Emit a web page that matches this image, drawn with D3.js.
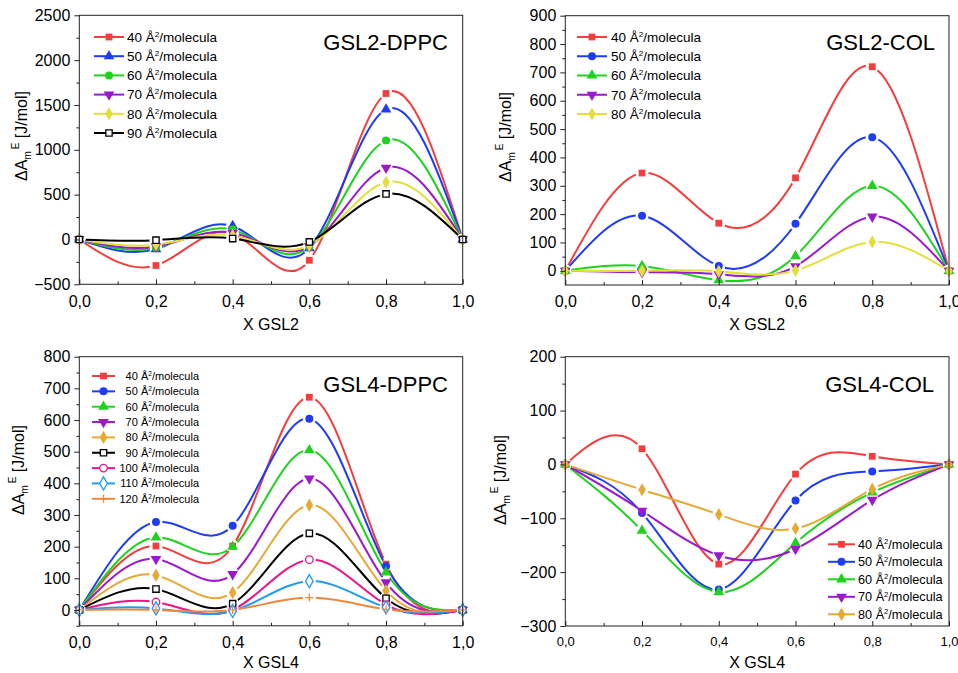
<!DOCTYPE html>
<html>
<head>
<meta charset="utf-8">
<script src="https://cdn.jsdelivr.net/npm/d3@7"></script>
<style>
body { margin: 0; background: #fff; }
svg { font-family: Arial, "Liberation Sans", sans-serif; }
</style>
</head>
<body>
<script>
// mole fraction of the glycolipid
var xFractions = [0, 0.2, 0.4, 0.6, 0.8, 1.0];

// GSL2-DPPC
var gsl2DppcAreas = [40, 50, 60, 70, 80, 90];
var gsl2DppcValues = [
  [0, -290, 70, -232, 1628, 0],
  [0, -107, 150, -96, 1450, 0],
  [0, -92, 110, -85, 1105, 0],
  [0, -78, 75, -78, 800, 0],
  [0, -58, 45, -65, 638, 0],
  [0, -8, 10, -27, 508, 0]
];

// GSL2-COL
var gsl2ColAreas = [40, 50, 60, 70, 80];
var gsl2ColValues = [
  [0, 345, 168, 328, 720, 0],
  [0, 194, 17, 166, 471, 0],
  [0, 17, -33, 52, 300, 0],
  [0, -5, -12, 16, 191, 0],
  [0, 0, -2, 1, 102, 0]
];

// GSL4-DPPC
var gsl4DppcAreas = [40, 50, 60, 70, 80, 90, 100, 110, 120];
var gsl4DppcValues = [
  [0, 202, 202, 672, 145, 0],
  [0, 278, 266, 604, 138, 0],
  [0, 229, 200, 505, 119, 0],
  [0, 161, 113, 415, 87, 0],
  [0, 110, 55, 331, 61, 0],
  [0, 66, 20, 242, 37, 0],
  [0, 25, 0, 159, 17, 0],
  [0, 5, -3, 91, 8, 0],
  [0, 0, 0, 39, 2, 0]
];

// GSL4-COL
var gsl4ColAreas = [40, 50, 60, 70, 80];
var gsl4ColValues = [
  [0, 29, -185, -18, 15, 0],
  [0, -90, -232, -67, -13, 0],
  [0, -123, -237, -146, -52, 0],
  [0, -86, -169, -157, -66, 0],
  [0, -47, -93, -119, -46, 0]
];

var xTicks = [0, 0.2, 0.4, 0.6, 0.8, 1.0];
var xMinor = [0.1, 0.3, 0.5, 0.7, 0.9];

var RED = "#f53d3d", BLUE = "#1f3cf5", GREEN = "#1ed21e", PURPLE = "#9b19cd",
    YELLOW = "#e3df3a", GOLD = "#e6a933", BLACK = "#000", PINK = "#f01486",
    LBLUE = "#1e9cf5", ORANGE = "#f0883c";

var panels = [
  { title: "GSL2-DPPC", xlabel: "X GSL2", areas: gsl2DppcAreas, values: gsl2DppcValues,
    colors: [RED, BLUE, GREEN, PURPLE, YELLOW, BLACK],
    marks: ["square", "triangle", "circle", "triDown", "diamond", "openSquare"],
    x0: 79.3, x1: 462.7, yDomain: [-500, 2500], y0: 284.3, y1: 15.3,
    yTicks: d3.range(-500, 2501, 500), yMinor: d3.range(-250, 2500, 500),
    xFont: 16, titleX: 448, titleY: 50, ylabX: 27, ylabY: 136, xlabY: 330,
    leg: { x0: 94, x1: 124, tx: 127, y: 37, dy: 19.2, font: 13.5, anchor: "start" } },
  { title: "GSL2-COL", xlabel: "X GSL2", areas: gsl2ColAreas, values: gsl2ColValues,
    colors: [RED, BLUE, GREEN, PURPLE, YELLOW],
    marks: ["square", "circle", "triangle", "triDown", "diamond"],
    x0: 565.3, x1: 949, yDomain: [-50, 900], y0: 285, y1: 15.7,
    yTicks: d3.range(0, 901, 100), yMinor: d3.range(50, 900, 100),
    xFont: 16, titleX: 935, titleY: 50, ylabX: 511, ylabY: 137, xlabY: 330,
    leg: { x0: 577, x1: 607, tx: 611, y: 37, dy: 19.25, font: 13.5, anchor: "start" } },
  { title: "GSL4-DPPC", xlabel: "X GSL4", areas: gsl4DppcAreas, values: gsl4DppcValues,
    colors: [RED, BLUE, GREEN, PURPLE, GOLD, BLACK, PINK, LBLUE, ORANGE],
    marks: ["square", "circle", "triangle", "triDown", "diamond", "openSquare", "openCircle", "openDiamond", "plus"],
    x0: 79.3, x1: 462.7, yDomain: [-50, 800], y0: 625.8, y1: 356.7,
    yTicks: d3.range(0, 801, 100), yMinor: d3.range(-50, 800, 100),
    xFont: 16, titleX: 448, titleY: 392, ylabX: 24, ylabY: 470, xlabY: 668,
    leg: { x0: 92, x1: 115, tx: 199, y: 376, dy: 15.35, font: 11, anchor: "end" } },
  { title: "GSL4-COL", xlabel: "X GSL4", areas: gsl4ColAreas, values: gsl4ColValues,
    colors: [RED, BLUE, GREEN, PURPLE, GOLD],
    marks: ["square", "circle", "triangle", "triDown", "diamond"],
    x0: 565.3, x1: 949, yDomain: [-300, 200], y0: 626, y1: 356.7,
    yTicks: d3.range(-300, 201, 100), yMinor: d3.range(-250, 200, 100),
    xFont: 13, titleX: 934, titleY: 392, ylabX: 506, ylabY: 480, xlabY: 668,
    leg: { x0: 828, x1: 855, tx: 858, y: 544.3, dy: 17.5, font: 12.7, anchor: "start" } }
];

var svg = d3.select("body").append("svg")
  .attr("width", 958)
  .attr("height", 673);
var defs = svg.append("defs");

function commaFmt(d) { return d3.format(".1f")(d).replace(".", ","); }

function drawMarker(g, type, color, x, y) {
  var m;
  if (type === "square") {
    m = g.append("path").attr("d", d3.symbol(d3.symbolSquare, 46)()).attr("fill", color);
  } else if (type === "circle") {
    m = g.append("path").attr("d", d3.symbol(d3.symbolCircle, 50)()).attr("fill", color);
  } else if (type === "triangle") {
    m = g.append("path").attr("d", d3.symbol(d3.symbolTriangle, 50)()).attr("fill", color);
  } else if (type === "triDown") {
    m = g.append("path").attr("d", d3.symbol(d3.symbolTriangle, 50)()).attr("fill", color);
    m.attr("transform", "translate(" + x + "," + y + ") rotate(180)");
    return;
  } else if (type === "diamond") {
    m = g.append("path").attr("d", d3.symbol(d3.symbolDiamond, 50)()).attr("fill", color);
  } else if (type === "openSquare") {
    m = g.append("path").attr("d", d3.symbol(d3.symbolSquare, 40)())
      .attr("fill", "#fff").attr("stroke", color).attr("stroke-width", 1.3);
  } else if (type === "openCircle") {
    m = g.append("path").attr("d", d3.symbol(d3.symbolCircle, 45)())
      .attr("fill", "#fff").attr("stroke", color).attr("stroke-width", 1.3);
  } else if (type === "openDiamond") {
    m = g.append("path").attr("d", d3.symbol(d3.symbolDiamond, 50)())
      .attr("fill", "#fff").attr("stroke", color).attr("stroke-width", 1.3);
  } else {
    m = g.append("path").attr("d", "M-4,0H4M0,-4V4")
      .attr("fill", "none").attr("stroke", color).attr("stroke-width", 1.3);
  }
  m.attr("transform", "translate(" + x + "," + y + ")");
}

panels.forEach(function(p, pi) {
  var xScale = d3.scaleLinear().domain([0, 1]).range([p.x0, p.x1]);
  var yScale = d3.scaleLinear().domain(p.yDomain).range([p.y0, p.y1]);
  var g = svg.append("g");

  // clip to the plot area
  defs.append("clipPath").attr("id", "clip" + pi)
    .append("rect")
    .attr("x", p.x0).attr("y", p.y1)
    .attr("width", p.x1 - p.x0).attr("height", p.y0 - p.y1);

  var line = d3.line()
    .x(function(d, i) { return xScale(xFractions[i]); })
    .y(function(d) { return yScale(d); })
    .curve(d3.curveNatural);

  var plot = g.append("g").attr("clip-path", "url(#clip" + pi + ")");

  p.values.forEach(function(vals, si) {
    // gaps in the line round each symbol
    var mask = defs.append("mask").attr("id", "mask" + pi + "_" + si)
      .attr("maskUnits", "userSpaceOnUse")
      .attr("x", 0).attr("y", 0).attr("width", 958).attr("height", 673);
    mask.append("rect").attr("width", 958).attr("height", 673).attr("fill", "#fff");
    mask.selectAll("circle").data(vals).enter().append("circle")
      .attr("cx", function(d, i) { return xScale(xFractions[i]); })
      .attr("cy", function(d) { return yScale(d); })
      .attr("r", 6.5)
      .attr("fill", "#000");

    plot.append("path")
      .attr("d", line(vals))
      .attr("fill", "none")
      .attr("stroke", p.colors[si])
      .attr("stroke-width", 2)
      .attr("mask", "url(#mask" + pi + "_" + si + ")");
  });

  p.values.forEach(function(vals, si) {
    vals.forEach(function(v, i) {
      drawMarker(g, p.marks[si], p.colors[si], xScale(xFractions[i]), yScale(v));
    });
  });

  // frame
  g.append("rect")
    .attr("x", p.x0).attr("y", p.y1)
    .attr("width", p.x1 - p.x0).attr("height", p.y0 - p.y1)
    .attr("fill", "none").attr("stroke", "#222").attr("stroke-width", 1);

  var xAxis = d3.axisBottom(xScale).tickValues(xTicks).tickFormat(commaFmt)
    .tickSize(-5).tickPadding(11);
  var xAxisMinor = d3.axisBottom(xScale).tickValues(xMinor).tickFormat("").tickSize(-3);
  var yAxis = d3.axisLeft(yScale).tickValues(p.yTicks).tickFormat(d3.format("d"))
    .tickSize(5).tickPadding(4);
  var yAxisMinor = d3.axisLeft(yScale).tickValues(p.yMinor).tickFormat("").tickSize(3);

  [xAxis, xAxisMinor].forEach(function(ax) {
    var a = g.append("g").attr("transform", "translate(0," + p.y0 + ")").call(ax);
    a.select(".domain").remove();
    a.selectAll("text").attr("font-size", p.xFont).attr("fill", "#000")
      .attr("font-family", "Arial, 'Liberation Sans', sans-serif");
    a.selectAll("line").attr("stroke", "#222");
  });
  [yAxis, yAxisMinor].forEach(function(ax) {
    var a = g.append("g").attr("transform", "translate(" + p.x0 + ",0)").call(ax);
    a.select(".domain").remove();
    a.selectAll("text").attr("font-size", 16).attr("fill", "#000")
      .attr("font-family", "Arial, 'Liberation Sans', sans-serif");
    a.selectAll("line").attr("stroke", "#222");
  });

  // titles and axis labels
  g.append("text")
    .attr("x", p.titleX).attr("y", p.titleY)
    .attr("text-anchor", "end")
    .attr("font-size", 22)
    .text(p.title);

  g.append("text")
    .attr("x", (p.x0 + p.x1) / 2).attr("y", p.xlabY)
    .attr("text-anchor", "middle")
    .attr("font-size", 16)
    .text(p.xlabel);

  var yl = g.append("text")
    .attr("transform", "translate(" + p.ylabX + "," + p.ylabY + ") rotate(-90)")
    .attr("text-anchor", "middle")
    .attr("font-size", 16);
  yl.append("tspan").text("\u0394A");
  yl.append("tspan").attr("font-size", 10).attr("dy", 4).text("m");
  yl.append("tspan").attr("font-size", 10).attr("dx", 2).attr("dy", -12).text("E");
  yl.append("tspan").attr("dy", 8).text(" [J/mol]");

  // legend
  var L = p.leg;
  p.areas.forEach(function(a, si) {
    var ly = L.y + si * L.dy;
    g.append("line")
      .attr("x1", L.x0).attr("x2", L.x1).attr("y1", ly).attr("y2", ly)
      .attr("stroke", p.colors[si]).attr("stroke-width", 2);
    drawMarker(g, p.marks[si], p.colors[si], (L.x0 + L.x1) / 2, ly);
    var t = g.append("text")
      .attr("x", L.tx).attr("y", ly + L.font * 0.36)
      .attr("text-anchor", L.anchor)
      .attr("font-size", L.font);
    t.append("tspan").text(a + " \u00c5");
    t.append("tspan").attr("font-size", L.font * 0.6).attr("dy", -L.font * 0.38).text("2");
    t.append("tspan").attr("dy", L.font * 0.38).text("/molecula");
  });
});
</script>
</body>
</html>
